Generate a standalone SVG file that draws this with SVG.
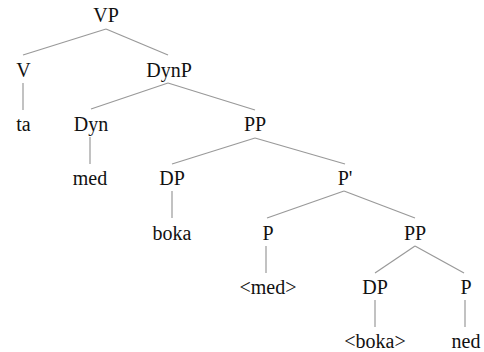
<svg xmlns="http://www.w3.org/2000/svg" width="484" height="352" viewBox="0 0 484 352">
<rect width="484" height="352" fill="#fff"/>
<g id="connectors" stroke="#999" stroke-width="1.2">
<line x1="106" y1="29" x2="23" y2="55"/>
<line x1="106" y1="29" x2="168" y2="55"/>
<line x1="23" y1="83" x2="23" y2="110"/>
<line x1="168" y1="83" x2="91" y2="109"/>
<line x1="168" y1="83" x2="255" y2="110"/>
<line x1="90" y1="137" x2="90" y2="164"/>
<line x1="255" y1="138" x2="172" y2="164"/>
<line x1="255" y1="138" x2="345" y2="164"/>
<line x1="172" y1="191" x2="172" y2="218"/>
<line x1="344" y1="191" x2="267" y2="218"/>
<line x1="344" y1="191" x2="415" y2="218"/>
<line x1="266" y1="246" x2="266" y2="273"/>
<line x1="415" y1="246" x2="375" y2="273"/>
<line x1="415" y1="246" x2="464" y2="273"/>
<line x1="375" y1="300" x2="375" y2="327"/>
<line x1="465" y1="300" x2="465" y2="327"/>
</g>
<g id="n-VP"><text font-family="Liberation Serif" font-size="20" text-anchor="middle" fill="#111" x="106" y="22">VP</text></g>
<g id="n-V"><text font-family="Liberation Serif" font-size="20" text-anchor="middle" fill="#111" x="23.5" y="76.5">V</text></g>
<g id="n-ta"><text font-family="Liberation Serif" font-size="20" text-anchor="middle" fill="#111" x="23.5" y="130.5">ta</text></g>
<g id="n-DynP"><text font-family="Liberation Serif" font-size="20" text-anchor="middle" fill="#111" x="169" y="76.5">DynP</text></g>
<g id="n-Dyn"><text font-family="Liberation Serif" font-size="20" text-anchor="middle" fill="#111" x="91" y="130.5">Dyn</text></g>
<g id="n-PP1"><text font-family="Liberation Serif" font-size="20" text-anchor="middle" fill="#111" x="255" y="130.5">PP</text></g>
<g id="n-med"><text font-family="Liberation Serif" font-size="20" text-anchor="middle" fill="#111" x="90" y="185">med</text></g>
<g id="n-DP1"><text font-family="Liberation Serif" font-size="20" text-anchor="middle" fill="#111" x="172" y="185">DP</text></g>
<g id="n-Pbar"><text font-family="Liberation Serif" font-size="20" text-anchor="middle" fill="#111" x="345" y="185">P'</text></g>
<g id="n-boka"><text font-family="Liberation Serif" font-size="20" text-anchor="middle" fill="#111" x="172" y="239.5">boka</text></g>
<g id="n-P1"><text font-family="Liberation Serif" font-size="20" text-anchor="middle" fill="#111" x="268" y="239.5">P</text></g>
<g id="n-PP2"><text font-family="Liberation Serif" font-size="20" text-anchor="middle" fill="#111" x="415" y="239.5">PP</text></g>
<g id="n-medt"><text font-family="Liberation Serif" font-size="20" text-anchor="middle" fill="#111" x="268" y="294">&lt;med&gt;</text></g>
<g id="n-DP2"><text font-family="Liberation Serif" font-size="20" text-anchor="middle" fill="#111" x="375" y="294">DP</text></g>
<g id="n-P2"><text font-family="Liberation Serif" font-size="20" text-anchor="middle" fill="#111" x="466" y="294">P</text></g>
<g id="n-bokat"><text font-family="Liberation Serif" font-size="20" text-anchor="middle" fill="#111" x="375" y="348">&lt;boka&gt;</text></g>
<g id="n-ned"><text font-family="Liberation Serif" font-size="20" text-anchor="middle" fill="#111" x="466" y="348">ned</text></g>
</svg>
